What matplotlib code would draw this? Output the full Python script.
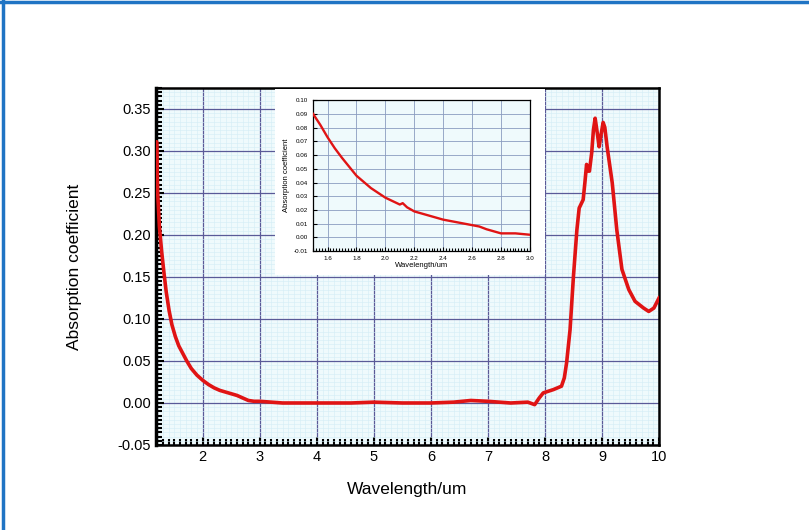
import matplotlib
matplotlib.use("Agg")
import matplotlib.pyplot as plt
from matplotlib.ticker import MultipleLocator
from matplotlib.lines import Line2D
from matplotlib.patches import Rectangle

plt.rcParams["font.family"] = ["Liberation Sans", "DejaVu Sans"]

# main spectrum
wl = [1.18, 1.19, 1.20, 1.21, 1.24, 1.28, 1.32, 1.36, 1.41, 1.46, 1.52, 1.58, 1.65, 1.72,
      1.80, 1.90, 2.00, 2.10, 2.20, 2.30, 2.40, 2.50, 2.60, 2.70, 2.80, 2.90, 3.00, 3.40,
      4.00, 4.60, 5.00, 5.50, 6.00, 6.40, 6.70, 7.00, 7.40, 7.70, 7.82, 7.90, 7.97, 8.15,
      8.29, 8.34, 8.38, 8.44, 8.50, 8.56, 8.60, 8.67, 8.70, 8.73, 8.76, 8.78, 8.82, 8.85,
      8.88, 8.91, 8.95, 8.98, 9.02, 9.05, 9.09, 9.18, 9.26, 9.35, 9.47, 9.58, 9.73, 9.82,
      9.91, 10.0]
absorb = [0.250, 0.311, 0.280, 0.250, 0.210, 0.180, 0.155, 0.132, 0.110, 0.093, 0.079,
          0.068, 0.059, 0.050, 0.041, 0.033, 0.027, 0.022, 0.018, 0.015, 0.013, 0.011,
          0.009, 0.006, 0.003, 0.002, 0.002, 0.000, 0.000, 0.000, 0.001, 0.000, 0.000,
          0.001, 0.003, 0.002, 0.000, 0.001, -0.002, 0.006, 0.012, 0.016, 0.020, 0.030,
          0.048, 0.087, 0.151, 0.206, 0.232, 0.242, 0.262, 0.284, 0.276, 0.276, 0.298,
          0.325, 0.339, 0.325, 0.305, 0.318, 0.334, 0.328, 0.305, 0.262, 0.206, 0.159,
          0.135, 0.121, 0.113, 0.109, 0.113, 0.125]

# inset (zoom of 1.5-3.0 um)
wl_in = [1.50, 1.55, 1.60, 1.65, 1.70, 1.80, 1.90, 2.00, 2.10, 2.12, 2.15, 2.20, 2.30,
         2.40, 2.50, 2.60, 2.65, 2.70, 2.80, 2.90, 3.00]
abs_in = [0.090, 0.082, 0.073, 0.065, 0.058, 0.045, 0.036, 0.029, 0.024, 0.025, 0.022,
          0.019, 0.016, 0.013, 0.011, 0.009, 0.008, 0.006, 0.003, 0.003, 0.002]

red = "#e01414"
bg = "#effafc"
major_c = "#5a5a98"
minor_c = "#d3edf5"

fig = plt.figure(figsize=(8.09, 5.30), dpi=100)
ax = fig.add_axes([0.1928, 0.1604, 0.6218, 0.6736])
ax.set_facecolor(bg)
ax.plot(wl, absorb, color=red, lw=2.6, zorder=3, solid_joinstyle="round")
ax.set_xlim(1.18, 10)
ax.set_ylim(-0.05, 0.375)
ax.set_xticks(range(2, 11))
ax.set_yticks([-0.05, 0, 0.05, 0.10, 0.15, 0.20, 0.25, 0.30, 0.35])
ax.set_yticklabels(["-0.05", "0.00", "0.05", "0.10", "0.15", "0.20", "0.25", "0.30", "0.35"])
ax.xaxis.set_minor_locator(MultipleLocator(0.1))
ax.yaxis.set_minor_locator(MultipleLocator(0.005))
ax.grid(which="minor", color=minor_c, lw=0.4)
ax.grid(which="major", color=major_c, lw=0.9)
ax.set_axisbelow(True)
ax.tick_params(which="both", direction="in", top=False, right=False, labelsize=10.5,
               width=1.5)
ax.tick_params(which="major", length=6)
ax.tick_params(which="minor", length=4)
for s in ax.spines.values():
    s.set_linewidth(1.8)
ax.spines["left"].set_linewidth(2.5)
ax.set_xlabel("Wavelength/um", fontsize=12.5, labelpad=13)
ax.set_ylabel("Absorption coefficient", fontsize=12.5, labelpad=26)

# white box behind the inset
fig.patches.append(Rectangle((0.340, 0.481), 0.334, 0.352, transform=fig.transFigure,
                             facecolor="white", edgecolor="none", zorder=5))

ins = fig.add_axes([0.387, 0.526, 0.268, 0.285], zorder=6)
ins.set_facecolor(bg)
ins.plot(wl_in, abs_in, color=red, lw=1.7, zorder=3)
ins.set_xlim(1.5, 3.0)
ins.set_ylim(-0.01, 0.10)
ins.set_xticks([1.6, 1.8, 2.0, 2.2, 2.4, 2.6, 2.8, 3.0])
ins.set_yticks([i / 100 for i in range(-1, 11)])
ins.set_yticklabels(["%.2f" % (i / 100) for i in range(-1, 11)])
ins.xaxis.set_minor_locator(MultipleLocator(0.02))
ins.grid(which="major", color="#8a9cc0", lw=0.6)
ins.set_axisbelow(True)
ins.tick_params(which="both", direction="in", labelsize=4.5, width=0.8)
ins.tick_params(which="major", length=3)
ins.tick_params(which="minor", length=2)
for s in ins.spines.values():
    s.set_linewidth(0.9)
ins.set_xlabel("Wavelength/um", fontsize=5.5, labelpad=1)
ins.set_ylabel("Absorption coefficient", fontsize=5.5, labelpad=3)

# blue frame on the left and top edge
fig.add_artist(Line2D([0.004, 0.004], [0, 1], transform=fig.transFigure, color="#1f74c4", lw=2.5))
fig.add_artist(Line2D([0, 1], [0.997, 0.997], transform=fig.transFigure, color="#1f74c4", lw=2.5))

fig.savefig("out.png", dpi=100)
